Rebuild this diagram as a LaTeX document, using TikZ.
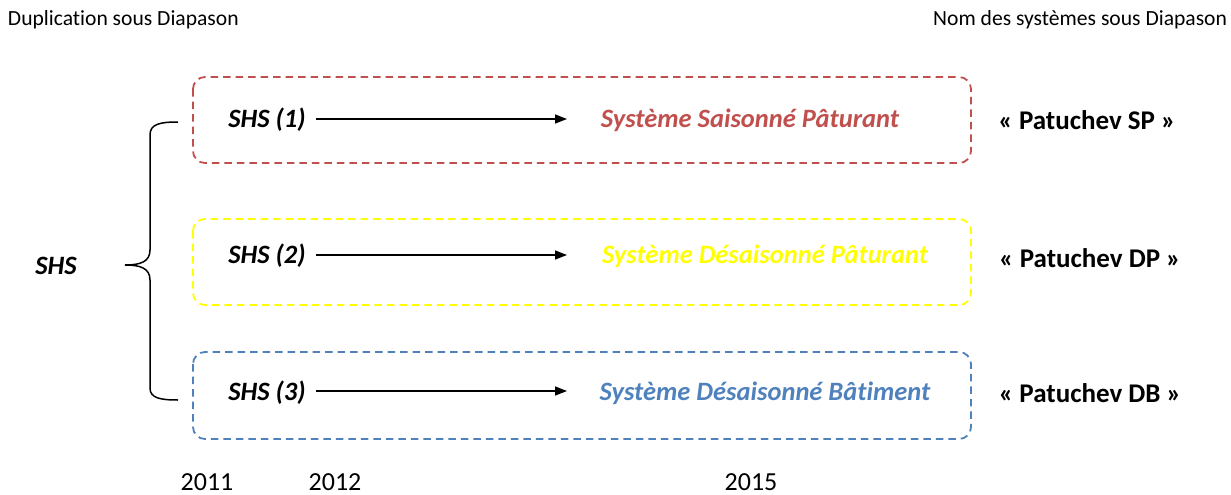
\documentclass[tikz,border=0pt]{standalone}
\usepackage{fontspec}
\setmainfont{Carlito}[RawFeature=-liga]
\usetikzlibrary{arrows.meta}
\definecolor{cred}{HTML}{C0504D}
\definecolor{cyel}{HTML}{FFFF00}
\definecolor{cblue}{HTML}{4F81BD}
\begin{document}
\begin{tikzpicture}[x=1pt,y=-1pt,
  every node/.style={inner sep=0pt,outer sep=0pt},
  small/.style={font=\fontsize{21.6}{25}\selectfont},
  year/.style={font=\fontsize{26}{30}\selectfont},
  lbl/.style={font=\fontsize{26.5}{30}\selectfont\bfseries\itshape},
  nom/.style={font=\fontsize{27}{31}\selectfont\bfseries},
  frame/.style={draw, line width=1.8pt, dash pattern=on 7.5pt off 5pt, rounded corners=12pt},
  arr/.style={-{Triangle[length=12pt,width=9pt]}, line width=1.5pt}]
\useasboundingbox (0,0) rectangle (1231,495);
\node[small, anchor=west] (t1) at (8,20) {Duplication sous Diapason};
\node[small, anchor=east] (t2) at (1227,20) {Nom des systèmes sous Diapason};
\draw[frame, cred] (193,77) rectangle (971,163);
\draw[frame, cyel] (193,219) rectangle (971,305);
\draw[frame, cblue] (193,352) rectangle (971,439);
\node[lbl] (shs) at (56,266) {SHS};
\node[lbl] (a1) at (267,120) {SHS (1)};
\node[lbl] (a2) at (267,256) {SHS (2)};
\node[lbl] (a3) at (267,393) {SHS (3)};
\coordinate (e1) at (567,119);
\coordinate (e2) at (567,255);
\coordinate (e3) at (567,391);
\coordinate (s1) at (316,119);
\coordinate (s2) at (316,255);
\coordinate (s3) at (316,391);
\draw[arr] (s1) -- (e1);
\draw[arr] (s2) -- (e2);
\draw[arr] (s3) -- (e3);
\node[lbl, text=cred] (b1) at (750,120) {Système Saisonné Pâturant};
\node[lbl, text=cyel] (b2) at (765,256) {Système Désaisonné Pâturant};
\node[lbl, text=cblue] (b3) at (765,393) {Système Désaisonné Bâtiment};
\node[nom] (c1) at (1087,120) {« Patuchev SP »};
\node[nom] (c2) at (1090,258) {« Patuchev DP »};
\node[nom] (c3) at (1090,393) {« Patuchev DB »};
\coordinate (bt) at (178,122);
\coordinate (bb) at (178,400);
\coordinate (bm) at (125,265);
\draw[line width=1.5pt] (bt) .. controls (160,122) and (150,124) .. (150,135)
  -- (150,250) .. controls (150,262) and (140,265) .. (bm)
  .. controls (140,265) and (150,268) .. (150,280)
  -- (150,388) .. controls (150,398) and (160,400) .. (bb);
\node[year] (y1) at (207,482) {2011};
\node[year] (y2) at (335,482) {2012};
\node[year] (y3) at (751,482) {2015};
\end{tikzpicture}
\end{document}
